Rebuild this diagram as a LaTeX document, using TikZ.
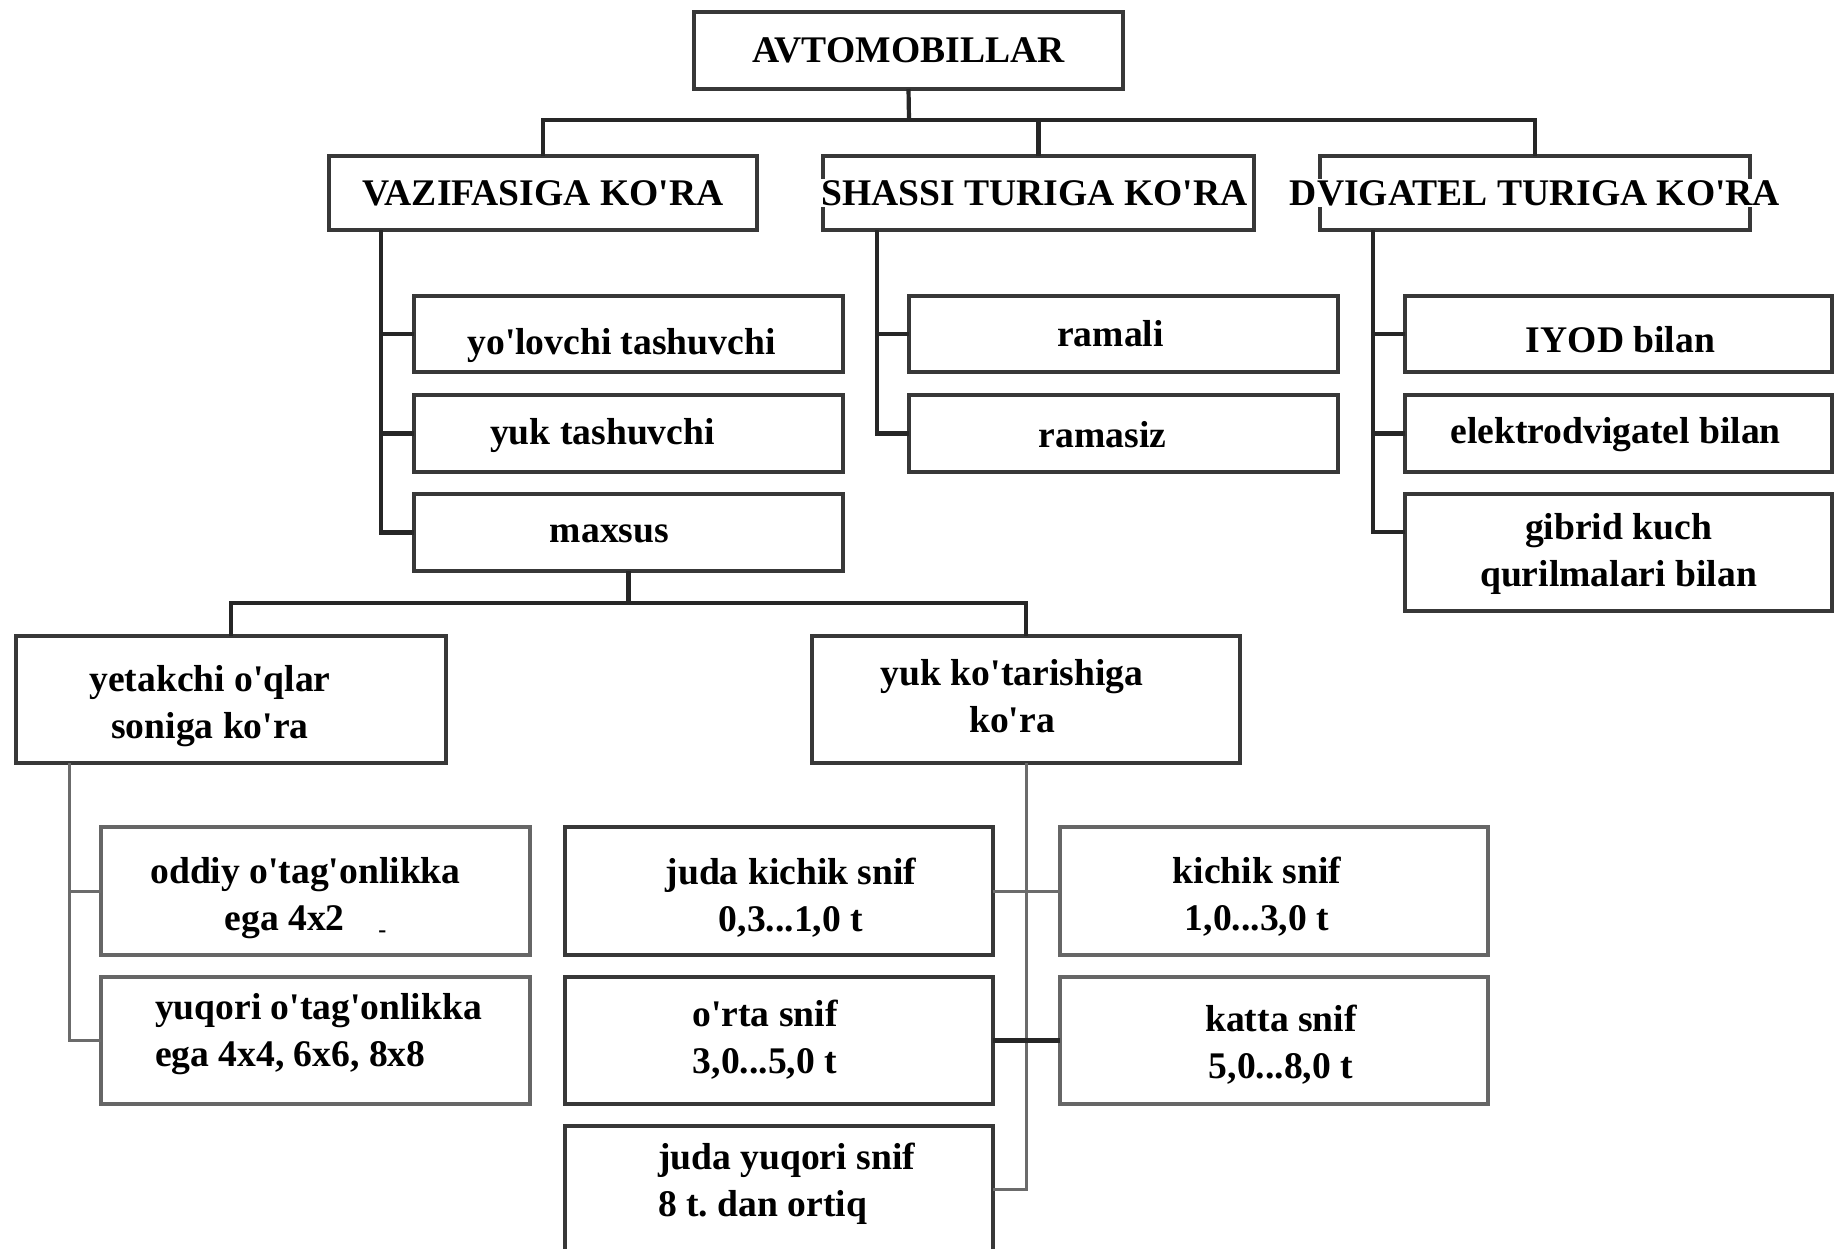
\documentclass[tikz,border=0pt]{standalone}
\usepackage{fontspec}
\newfontfamily\ser{Liberation Serif}
\usetikzlibrary{calc}
\frenchspacing
\tikzset{
  fnt/.style={font=\ser\bfseries\fontsize{18.8}{23.5}\selectfont},
  boxd/.style={draw=black!78, line width=1.6pt, inner sep=0pt, outer sep=0pt},
  boxl/.style={boxd, draw=black!60},
  conn/.style={draw=black!85, line width=2.1pt},
  thinc/.style={draw=black!58, line width=1.5pt},
  txt/.style={inner sep=0.5pt, outer sep=0pt, align=center, fnt},
  txtw/.style={txt, fill=white},
}
\newcommand{\mkbox}[6]{%
  \node[#1, minimum width={(#5-#3)*0.5pt}, minimum height={(#6-#4)*0.5pt}] (#2) at ({(#3+#5)/2},{(#4+#6)/2}) {};}
\newcommand{\mktxt}[4]{%
  \node[txt] (#1t) at ($(#1)+(#2,#3)$) {#4};}
\begin{document}
\begin{tikzpicture}[x=0.5pt,y=-0.5pt]
\useasboundingbox (0,0) rectangle (1834,1248);
\clip (0,0) rectangle (1834,1248);
\fill[white] (0,0) rectangle (1834,1248);

% top level
\mkbox{boxd}{avt}{694}{12}{1123}{89}
\mkbox{boxd}{vaz}{329}{156}{757}{230}
\mkbox{boxd}{sha}{823}{156}{1254}{230}
\mkbox{boxd}{dvi}{1320}{156}{1750}{230}
\mktxt{avt}{0}{0}{AVTOMOBILLAR}
\node[txtw] (vazt) at (vaz) {VAZIFASIGA KO'RA};
\node[txtw] (shat) at ($(sha)+(-4,0)$) {SHASSI TURIGA KO'RA};
\node[txtw] (dvit) at (dvi) {DVIGATEL TURIGA KO'RA};

% second level
\mkbox{boxd}{yo}{414}{296}{843}{372}
\mkbox{boxd}{yk}{414}{395}{843}{472}
\mkbox{boxd}{mx}{414}{494}{843}{571}
\mkbox{boxd}{ram}{909}{296}{1338}{372}
\mkbox{boxd}{rms}{909}{395}{1338}{472}
\mkbox{boxd}{iyod}{1405}{296}{1832}{372}
\mkbox{boxd}{el}{1405}{395}{1832}{472}
\mkbox{boxd}{gib}{1405}{494}{1832}{611}
\mktxt{yo}{-7}{12}{yo'lovchi tashuvchi}
\mktxt{yk}{-26}{2}{yuk tashuvchi}
\mktxt{mx}{-19}{1}{maxsus}
\mktxt{ram}{-13}{0}{ramali}
\mktxt{rms}{-21}{1}{ramasiz}
\mktxt{iyod}{2}{6}{IYOD bilan}
\mktxt{el}{-3}{1}{elektrodvigatel bilan}
\mktxt{gib}{0}{1}{gibrid kuch\\qurilmalari bilan}

% third level
\mkbox{boxd}{yet}{16}{636}{446}{763}
\mkbox{boxd}{ykt}{812}{636}{1240}{763}
\mktxt{yet}{-21}{7}{yetakchi o'qlar\\soniga ko'ra}
\mktxt{ykt}{-14}{-3}{yuk ko'tarishiga\\ko'ra}

% fourth level
\mkbox{boxl}{od}{101}{827}{530}{955}
\mkbox{boxl}{yq}{101}{977}{530}{1104}
\mkbox{boxd}{jk}{565}{827}{993}{955}
\mkbox{boxd}{ort}{565}{977}{993}{1104}
\mkbox{boxd}{jy}{565}{1126}{993}{1252}
\mkbox{boxl}{ks}{1060}{827}{1488}{955}
\mkbox{boxl}{kt}{1060}{977}{1488}{1104}
\mktxt{od}{-10}{7}{oddiy o'tag'onlikka\\ega 4x2\hspace{0.9em}\raisebox{-0.2em}{\fontsize{12}{12}\selectfont -}}
\node[txt, anchor=west, align=left] (yqt) at (154,1034) {yuqori o'tag'onlikka\\ega 4x4, 6x6, 8x8};
\mktxt{jk}{12}{7}{juda kichik snif\\0,3...1,0 t}
\mktxt{ort}{-14}{-1}{o'rta snif\\3,0...5,0 t}
\node[txt, anchor=west, align=left] (jyt) at (657,1184) {juda yuqori snif\\8 t. dan ortiq};
\mktxt{ks}{-17}{6}{kichik snif\\1,0...3,0 t}
\mktxt{kt}{7}{4}{katta snif\\5,0...8,0 t}

% connectors: top bus
\coordinate (bus) at (909,120);
\draw[conn] (avt.south) -- (bus);
\draw[conn] (vaz.north) |- (bus) -| (dvi.north);
\draw[conn] (sha.north) -- (sha.north |- bus);

% VAZIFASIGA trunk
\coordinate (vtr) at ($(vaz.south west)+(52,0)$);
\draw[conn] (vtr) |- (mx.west);
\draw[conn] (vtr |- yo.west) -- (yo.west);
\draw[conn] (vtr |- yk.west) -- (yk.west);

% SHASSI trunk
\coordinate (str) at ($(sha.south west)+(54,0)$);
\draw[conn] (str) |- (rms.west);
\draw[conn] (str |- ram.west) -- (ram.west);

% DVIGATEL trunk
\coordinate (dtr) at ($(dvi.south west)+(53,0)$);
\coordinate (gtk) at ($(gib.north west)+(0,38)$);
\draw[conn] (dtr) |- (gtk);
\draw[conn] (dtr |- iyod.west) -- (iyod.west);
\draw[conn] (dtr |- el.west) -- (el.west);

% second bus
\coordinate (bus2) at ($(mx.south)+(0,32)$);
\draw[conn] (mx.south) -- (bus2);
\draw[conn] (yet.north) |- (bus2) -| (ykt.north);

% yetakchi trunk
\coordinate (ytr) at ($(yet.south west)+(53,0)$);
\draw[thinc] (ytr) |- (yq.west);
\draw[thinc] (ytr |- od.west) -- (od.west);

% yuk ko'tarishiga trunk
\draw[thinc] (ykt.south) |- (jy.east);
\draw[thinc] (jk.east) -- (ks.west);
\draw[conn] (ort.east) -- (kt.west);
\end{tikzpicture}
\end{document}
